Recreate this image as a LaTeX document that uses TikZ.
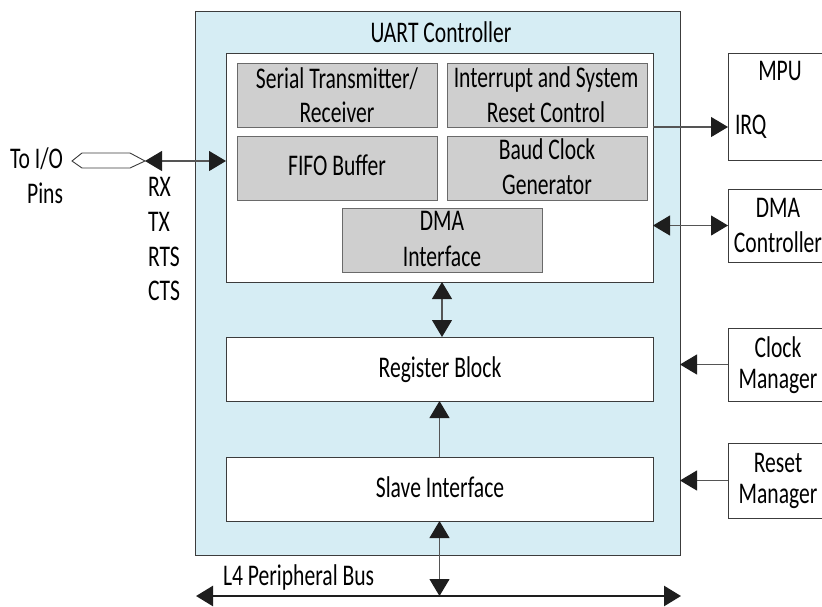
\documentclass[tikz,border=0pt]{standalone}
\usepackage{fontspec}
\setmainfont{Carlito}[FakeStretch=0.72]
\usetikzlibrary{arrows.meta}
\definecolor{bluefill}{HTML}{D6EDF4}
\definecolor{grayfill}{HTML}{CFCFCF}
\definecolor{edgec}{HTML}{3C3C3C}
\definecolor{grayedge}{HTML}{6A6A6A}
\definecolor{linec}{HTML}{555555}
\definecolor{tipc}{HTML}{1E1E1E}
\begin{document}
\begin{tikzpicture}[x=1pt,y=-1pt,
  every node/.style={inner sep=0pt,outer sep=0pt},
  sz/.style 2 args={minimum width=#1,minimum height=#2},
  ctrlbox/.style={draw=edgec,line width=1pt,fill=bluefill},
  wbox/.style={draw=edgec,line width=1pt,fill=white},
  gbox/.style={draw=grayedge,line width=1pt,fill=grayfill},
  lbl/.style={anchor=base,font=\fontsize{30}{34}\selectfont,text=black},
  lblw/.style={lbl,anchor=base west},
  lble/.style={lbl,anchor=base east},
  conn/.style={draw=linec,line width=1.1pt},
  >={Triangle[length=17pt,width=20pt,color=tipc]},
  bus/.style={draw=tipc,line width=2.6pt,{Triangle[length=17pt,width=20pt,color=tipc]}-{Triangle[length=17pt,width=20pt,color=tipc]}}
]
\clip (0,0) rectangle (822,606);
\fill[white] (0,0) rectangle (822,606);

% UART controller
\node[ctrlbox,sz={485}{544}] (uart) at (437.5,283) {};
\node[lbl] (uartT) at (441,42) {UART Controller};
\node[wbox,sz={427}{229}] (inner) at (439.5,167.5) {};

\node[gbox,sz={200}{64}] (serial) at (337,95) {};
\node[lbl] (serialA) at (337,88) {Serial Transmitter/};
\node[lbl] (serialB) at (337,122) {Receiver};

\node[gbox,sz={200}{64}] (intr) at (547,95) {};
\node[lbl] (intrA) at (546,87) {Interrupt and System};
\node[lbl] (intrB) at (546,122) {Reset Control};

\node[gbox,sz={200}{64}] (fifo) at (337,168) {};
\node[lbl] (fifoT) at (337,175) {FIFO Buffer};

\node[gbox,sz={200}{64}] (baud) at (547,168) {};
\node[lbl] (baudA) at (547,159) {Baud Clock};
\node[lbl] (baudB) at (547,194) {Generator};

\node[gbox,sz={200}{64}] (dmai) at (442,240) {};
\node[lbl] (dmaiA) at (442,230) {DMA};
\node[lbl] (dmaiB) at (442,266) {Interface};

\node[wbox,sz={427}{64}] (reg) at (439.5,369) {};
\node[lbl] (regT) at (440,377) {Register Block};

\node[wbox,sz={427}{64}] (slave) at (439.5,489) {};
\node[lbl] (slaveT) at (440,497) {Slave Interface};

% right-hand blocks
\node[wbox,sz={100}{107}] (mpu) at (778,106.5) {};
\node[lbl] (mpuT) at (780,80) {MPU};
\node[lblw] (irq) at (735,134) {IRQ};

\node[wbox,sz={100}{73}] (dmac) at (778,225.5) {};
\node[lbl] (dmacA) at (778,217) {DMA};
\node[lbl] (dmacB) at (778,252) {Controller};

\node[wbox,sz={100}{73}] (clk) at (778,364.5) {};
\node[lbl] (clkA) at (778,357) {Clock};
\node[lbl] (clkB) at (778,388) {Manager};

\node[wbox,sz={100}{75}] (rst) at (778,480.5) {};
\node[lbl] (rstA) at (778,472) {Reset};
\node[lbl] (rstB) at (778,503) {Manager};

% left side
\node[lble] (toio) at (63,168) {To I/O};
\node[lble] (pins) at (63,203) {Pins};
\node[lblw] (rx) at (148,196) {RX};
\node[lblw] (tx) at (148,231) {TX};
\node[lblw] (rts) at (148,266) {RTS};
\node[lblw] (cts) at (148,300) {CTS};
\draw[edgec,line width=0.9pt] (72,161) -- (82,153) -- (130,153) -- (145,161) -- (130,168) -- (82,168) -- cycle;
\coordinate (hexR) at (145,161);

% bus
\coordinate (busL) at (196,596);
\coordinate (busR) at (681,596);
\node[lblw] (busT) at (223,585) {L4 Peripheral Bus};

% connectors
\draw[conn,<->] (hexR) -- (hexR -| inner.west);
\draw[conn,->] (inner.east |- intr.south) -- (mpu.west |- intr.south);
\draw[conn,<->] (inner.east |- dmac.west) -- (dmac.west);
\draw[conn,->] (clk.west) -- (clk.west -| uart.east);
\draw[conn,->] (rst.west) -- (rst.west -| uart.east);
\draw[conn,<->] (inner.south -| dmai.south) -- (reg.north -| dmai.south);
\draw[conn,->] (slave.north) -- (reg.south);
\draw[bus] (busL) -- (busR);
\draw[conn,<->] (slave.south) -- (slave.south |- busL);
\end{tikzpicture}
\end{document}
